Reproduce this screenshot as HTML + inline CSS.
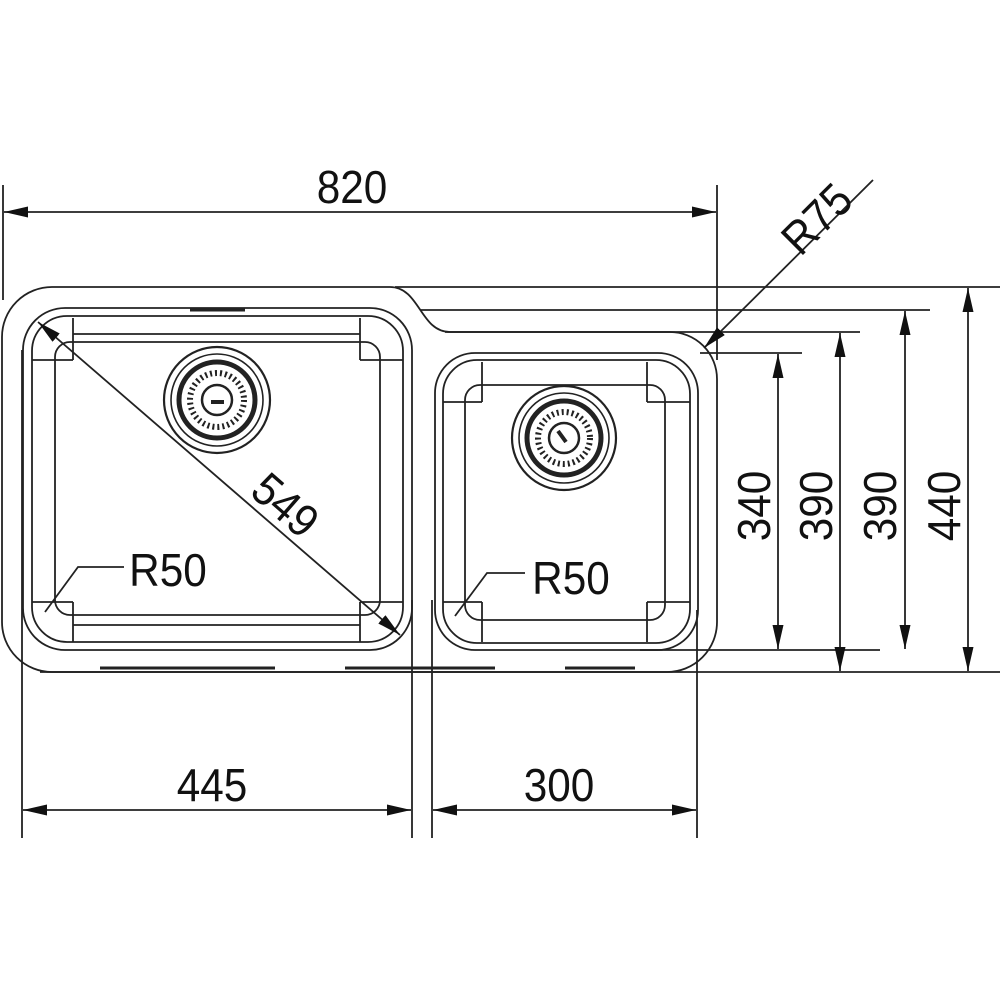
<!DOCTYPE html>
<html><head><meta charset="utf-8"><style>
html,body{margin:0;padding:0;background:#fff;}
svg{display:block;}
text{font-family:"Liberation Sans",sans-serif;font-size:46px;fill:#111;}
</style></head><body>
<svg width="1000" height="1000" viewBox="0 0 1000 1000" xmlns="http://www.w3.org/2000/svg">
<defs>
<marker id="a" viewBox="0 0 10 10" refX="10" refY="5" markerWidth="24" markerHeight="11" markerUnits="userSpaceOnUse" orient="auto-start-reverse" preserveAspectRatio="none"><path d="M0,0 L10,5 L0,10 Z" fill="#111"/></marker>
</defs>
<g stroke="#222" stroke-width="1.8" fill="none">
<line x1="3" y1="185" x2="3" y2="300"/>
<line x1="717" y1="185" x2="717" y2="360"/>
<line x1="22" y1="350" x2="22" y2="838"/>
<line x1="412" y1="600" x2="412" y2="838"/>
<line x1="432" y1="600" x2="432" y2="838"/>
<line x1="697" y1="610" x2="697" y2="838"/>
<line x1="395" y1="287" x2="1000" y2="287"/>
<line x1="420" y1="310" x2="930" y2="310"/>
<line x1="445" y1="332" x2="860" y2="332"/>
<line x1="700" y1="353" x2="802" y2="353"/>
<line x1="640" y1="650" x2="880" y2="650"/>
<line x1="40" y1="672" x2="1000" y2="672"/>
<path d="M2,337 A50,50 0 0 1 52,287 L390,287 C420,287 420,332 450,332 L670,332 A47,47 0 0 1 717,379 L717,622 A50,50 0 0 1 667,672 L52,672 A50,50 0 0 1 2,622 Z"/>
<rect x="23" y="308" width="389" height="342" rx="42"/>
<rect x="32" y="316" width="371" height="326" rx="35"/>
<rect x="55" y="342" width="325" height="273" rx="15"/>
<line x1="73" y1="318" x2="73" y2="360"/><line x1="360" y1="318" x2="360" y2="360"/>
<line x1="73" y1="602" x2="73" y2="642"/><line x1="360" y1="602" x2="360" y2="642"/>
<line x1="32" y1="360" x2="73" y2="360"/><line x1="360" y1="360" x2="403" y2="360"/>
<line x1="32" y1="602" x2="73" y2="602"/><line x1="360" y1="602" x2="403" y2="602"/>
<line x1="73" y1="334" x2="360" y2="334"/><line x1="73" y1="625" x2="360" y2="625"/>
<line x1="190" y1="310" x2="245" y2="310" stroke-width="3"/>
<rect x="435" y="353" width="263" height="297" rx="40"/>
<rect x="443" y="360" width="247" height="283" rx="34"/>
<rect x="465" y="385" width="200" height="235" rx="15"/>
<line x1="482" y1="362" x2="482" y2="402"/><line x1="647" y1="362" x2="647" y2="402"/>
<line x1="482" y1="602" x2="482" y2="642"/><line x1="647" y1="602" x2="647" y2="642"/>
<line x1="443" y1="402" x2="482" y2="402"/><line x1="647" y1="402" x2="690" y2="402"/>
<line x1="443" y1="602" x2="482" y2="602"/><line x1="647" y1="602" x2="690" y2="602"/>
<g stroke-width="3"><line x1="100" y1="668" x2="275" y2="668"/><line x1="345" y1="668" x2="495" y2="668"/><line x1="565" y1="668" x2="635" y2="668"/></g>
<circle cx="217" cy="400" r="53" stroke-width="2.2"/>
<circle cx="217" cy="400" r="46" stroke-width="1.6"/>
<circle cx="217" cy="400" r="38" stroke-width="5"/>
<circle cx="217" cy="400" r="27" stroke-width="6" stroke-dasharray="2 3"/>
<circle cx="217" cy="400" r="15" stroke-width="2.5"/>
<line x1="211" y1="402" x2="224" y2="402" stroke-width="4"/>
<circle cx="564" cy="438" r="52" stroke-width="2.2"/>
<circle cx="564" cy="438" r="45" stroke-width="1.6"/>
<circle cx="564" cy="438" r="37" stroke-width="5"/>
<circle cx="564" cy="438" r="26" stroke-width="6" stroke-dasharray="2 3"/>
<circle cx="564" cy="438" r="15" stroke-width="2.5"/>
<line x1="558" y1="431" x2="566" y2="442" stroke-width="4"/>
<line x1="4" y1="212" x2="716" y2="212" marker-start="url(#a)" marker-end="url(#a)"/>
<line x1="23" y1="810" x2="411" y2="810" marker-start="url(#a)" marker-end="url(#a)"/>
<line x1="433" y1="810" x2="696" y2="810" marker-start="url(#a)" marker-end="url(#a)"/>
<line x1="778" y1="354" x2="778" y2="649" marker-start="url(#a)" marker-end="url(#a)"/>
<line x1="840" y1="333" x2="840" y2="671" marker-start="url(#a)" marker-end="url(#a)"/>
<line x1="905" y1="311" x2="905" y2="649" marker-start="url(#a)" marker-end="url(#a)"/>
<line x1="968" y1="288" x2="968" y2="671" marker-start="url(#a)" marker-end="url(#a)"/>
<line x1="38" y1="322" x2="400" y2="635" marker-start="url(#a)" marker-end="url(#a)"/>
<line x1="873" y1="180" x2="704" y2="348" marker-end="url(#a)"/>
<polyline points="124,567 78,567 45,612"/>
<polyline points="525,573 487,573 455,616"/>
</g>
<text x="352" y="203" text-anchor="middle" transform="translate(352 0) scale(0.92 1) translate(-352 0)">820</text>
<text x="212" y="801" text-anchor="middle" transform="translate(212 0) scale(0.92 1) translate(-212 0)">445</text>
<text x="559" y="801" text-anchor="middle" transform="translate(559 0) scale(0.92 1) translate(-559 0)">300</text>
<text x="168" y="586" text-anchor="middle" transform="translate(168 0) scale(0.92 1) translate(-168 0)">R50</text>
<text x="571" y="594" text-anchor="middle" transform="translate(571 0) scale(0.92 1) translate(-571 0)">R50</text>
<text transform="translate(770 506) rotate(-90) scale(0.92 1)" text-anchor="middle">340</text>
<text transform="translate(832 506) rotate(-90) scale(0.92 1)" text-anchor="middle">390</text>
<text transform="translate(896 506) rotate(-90) scale(0.92 1)" text-anchor="middle">390</text>
<text transform="translate(960 506) rotate(-90) scale(0.92 1)" text-anchor="middle">440</text>
<text transform="translate(275 517) rotate(41) scale(0.92 1)" text-anchor="middle">549</text>
<text transform="translate(828 230) rotate(-45) scale(0.92 1)" text-anchor="middle">R75</text>
</svg>
</body></html>
